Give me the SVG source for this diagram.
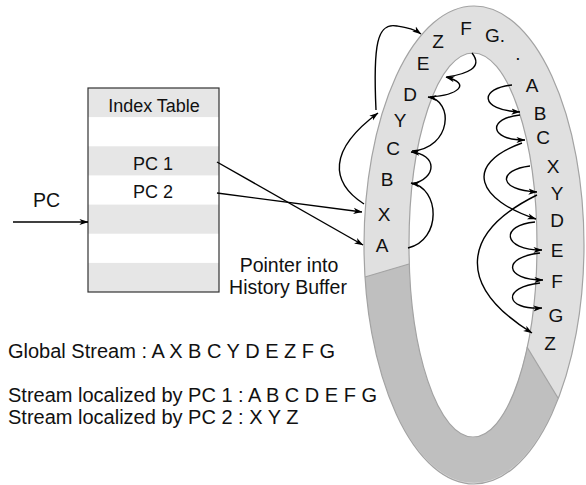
<svg xmlns="http://www.w3.org/2000/svg" width="586" height="485" viewBox="0 0 586 485">
  <style>
    text { font-family: "Liberation Sans", Arial, Helvetica, sans-serif; fill: #111; }
    .big { font-size: 19.5px; }
    .note { font-size: 20px; }
    .tbl { font-size: 18px; text-anchor: middle; }
    .ltr { font-size: 19px; text-anchor: middle; }
    .wire { fill: none; stroke: #000; stroke-width: 1.4; }
    .arr { marker-end: url(#head); }
    .band { fill: #e6e6e6; }
  </style>
  <defs>
    <marker id="head" viewBox="0 0 10 8" markerUnits="userSpaceOnUse" markerWidth="9" markerHeight="7.2" refX="9.5" refY="4" orient="auto">
      <path d="M0,0.6 L10,4 L0,7.4 L2.6,4 z" fill="#000"/>
    </marker>
  </defs>
  <rect width="586" height="485" fill="#fff"/>

  <!-- history buffer ring -->
  <g id="history-buffer">
    <path d="M364,245 A110,239 0 1 0 584,245 A110,239 0 1 0 364,245 Z M409,245 A64,192 0 1 0 537,245 A64,192 0 1 0 409,245 Z" fill="#e0e0e0" fill-rule="evenodd"/>
    <path d="M365,277 A110,239 0 0 0 558,398 L527,347 A64,192 0 0 1 409,264 Z" fill="#bfbfbf"/>
    <ellipse cx="474" cy="245" rx="110" ry="239" fill="none" stroke="#a3a3a3" stroke-width="1.2"/>
    <ellipse cx="473" cy="245" rx="64" ry="192" fill="none" stroke="#a3a3a3" stroke-width="1.2"/>
    <line x1="365" y1="277" x2="409" y2="264" stroke="#a3a3a3" stroke-width="1.2"/>
    <line x1="527" y1="347" x2="558" y2="398" stroke="#a3a3a3" stroke-width="1.2"/>
  </g>

  <!-- entries stored in the buffer -->
  <g id="buffer-entries">
    <text class="ltr" x="382" y="251.5">A</text>
    <text class="ltr" x="384" y="220.5">X</text>
    <text class="ltr" x="387" y="186">B</text>
    <text class="ltr" x="393" y="154.5">C</text>
    <text class="ltr" x="400" y="126.5">Y</text>
    <text class="ltr" x="410" y="101">D</text>
    <text class="ltr" x="423" y="70">E</text>
    <text class="ltr" x="438" y="48">Z</text>
    <text class="ltr" x="466" y="34.5">F</text>
    <text class="ltr" x="485" y="42" style="text-anchor:start">G.</text>
    <text class="ltr" x="518" y="60">.</text>
    <text class="ltr" x="532" y="91.5">A</text>
    <text class="ltr" x="540" y="119.5">B</text>
    <text class="ltr" x="543" y="143.5">C</text>
    <text class="ltr" x="553" y="172.5">X</text>
    <text class="ltr" x="557" y="199.5">Y</text>
    <text class="ltr" x="557" y="226.5">D</text>
    <text class="ltr" x="557" y="256.5">E</text>
    <text class="ltr" x="557" y="287.5">F</text>
    <text class="ltr" x="556" y="321.5">G</text>
    <text class="ltr" x="550" y="350">Z</text>
  </g>

  <!-- index table -->
  <g id="index-table">
    <rect x="88" y="88" width="131" height="204" fill="#fff"/>
    <rect class="band" x="88" y="88" width="131" height="29.1"/>
    <rect class="band" x="88" y="146.3" width="131" height="29.1"/>
    <rect class="band" x="88" y="204.6" width="131" height="29.1"/>
    <rect class="band" x="88" y="262.9" width="131" height="29.1"/>
    <rect x="88" y="88" width="131" height="204" fill="none" stroke="#333" stroke-width="1.2"/>
    <text class="tbl" x="154" y="111.5">Index Table</text>
    <text class="tbl" x="153" y="170">PC 1</text>
    <text class="tbl" x="153" y="198">PC 2</text>
  </g>

  <!-- free labels -->
  <g id="labels">
    <text class="big" x="33" y="206.5">PC</text>
    <text class="big" x="289" y="271.5" text-anchor="middle">Pointer into</text>
    <text class="big" x="288" y="293.5" text-anchor="middle">History Buffer</text>
    <text class="note" x="8" y="358">Global Stream : A X B C Y D E Z F G</text>
    <text class="note" x="8" y="402">Stream localized by PC 1 : A B C D E F G</text>
    <text class="note" x="8" y="423.5">Stream localized by PC 2 : X Y Z</text>
  </g>

  <!-- connectors -->
  <g id="connectors">
    <!-- PC into the table -->
    <line class="wire arr" x1="13" y1="222" x2="88" y2="222"/>
    <!-- table pointers into the buffer -->
    <line class="wire arr" x1="217" y1="162" x2="363" y2="245"/>
    <line class="wire arr" x1="217" y1="193" x2="362" y2="212"/>

    <!-- PC 2 stream: X -> Y -> Z -->
    <path class="wire arr" d="M364,204 C330,182 328,150 378,113"/>
    <path class="wire arr" d="M376,110 C373,45 377,22 397,26 C408,28 414,29 421,34"/>

    <!-- PC 1 stream, first pass: A -> B -> C -> D -> E -> F -->
    <path class="wire arr" d="M408,248 C442,240 440,188 411,183"/>
    <path class="wire arr" d="M412,184 C438,178 437,154 411,152"/>
    <path class="wire arr" d="M412,151 C452,148 454,100 428,97"/>
    <path class="wire arr" d="M430,97 C458,95 472,84 446,77"/>
    <path class="wire" d="M447,77 C466,74 484,68 472,53"/>

    <!-- second pass: A -> B -> C -> D -> E -> F -> G, X -> Y -> Z -->
    <path class="wire arr" d="M512,85 C480,88 478,110 520,112"/>
    <path class="wire arr" d="M520,115 C488,118 488,140 525,140"/>
    <path class="wire arr" d="M522,143 C462,165 478,200 536,219"/>
    <path class="wire arr" d="M530,166 C498,170 497,190 537,192"/>
    <path class="wire arr" d="M537,195 C462,232 455,285 532,333"/>
    <path class="wire arr" d="M535,222 C500,225 502,250 542,250"/>
    <path class="wire arr" d="M540,253 C502,257 504,280 543,280"/>
    <path class="wire arr" d="M540,283 C502,287 504,310 542,308"/>
  </g>
</svg>
